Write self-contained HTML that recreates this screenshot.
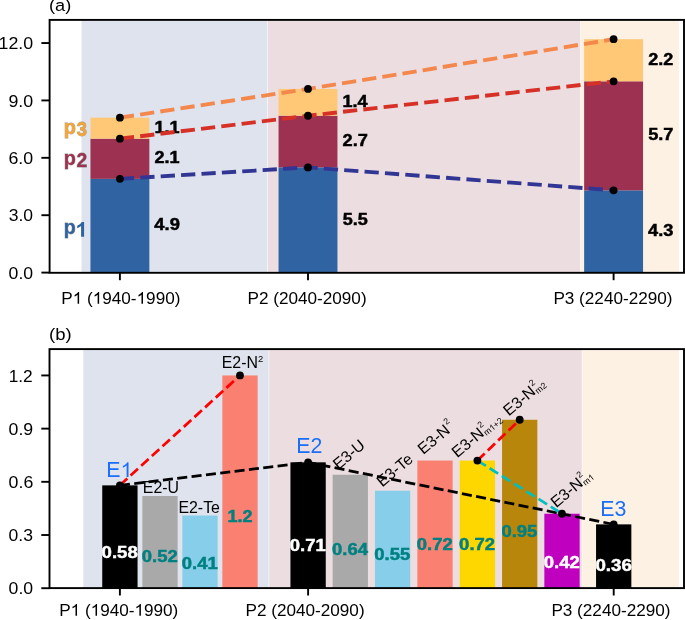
<!DOCTYPE html>
<html><head><meta charset="utf-8"><title>chart</title>
<style>
html,body{margin:0;padding:0;background:#fff;}
svg{display:block;will-change:transform;}
text{font-family:"Liberation Sans",sans-serif;}
</style></head>
<body>
<svg width="685" height="620" viewBox="0 0 685 620">
<rect width="685" height="620" fill="#fff"/>
<rect x="81.5" y="19.9" width="185.8" height="252.9" fill="#dfe3ed"/>
<rect x="267.9" y="19.9" width="312.4" height="252.9" fill="#ecdde0"/>
<rect x="580.9" y="19.9" width="97.9" height="252.9" fill="#fcf1e3"/>
<rect x="90.45" y="178.86" width="58.9" height="93.74" fill="#3063a1"/>
<rect x="90.45" y="138.69" width="58.9" height="40.17" fill="#9c3151"/>
<rect x="90.45" y="117.65" width="58.9" height="21.04" fill="#fec877"/>
<rect x="278.55" y="167.39" width="58.9" height="105.21" fill="#3063a1"/>
<rect x="278.55" y="115.73" width="58.9" height="51.65" fill="#9c3151"/>
<rect x="278.55" y="88.95" width="58.9" height="26.78" fill="#fec877"/>
<rect x="584.15" y="190.34" width="58.9" height="82.26" fill="#3063a1"/>
<rect x="584.15" y="81.3" width="58.9" height="109.04" fill="#9c3151"/>
<rect x="584.15" y="39.21" width="58.9" height="42.09" fill="#fec877"/>
<text transform="translate(154.34,230.29) scale(1.1648,1)" font-size="15.79" font-weight="bold" fill="#000" stroke="#000" stroke-width="0.45">4.9</text>
<text transform="translate(154.49,163.28) scale(1.1505,1)" font-size="15.73" font-weight="bold" fill="#000" stroke="#000" stroke-width="0.45">2.1</text>
<text transform="translate(154.48,132.67) scale(1.1548,1)" font-size="15.68" font-weight="bold" fill="#000" stroke="#000" stroke-width="0.45">1.1</text>
<text transform="translate(342.64,224.55) scale(1.1455,1)" font-size="15.76" font-weight="bold" fill="#000" stroke="#000" stroke-width="0.45">5.5</text>
<text transform="translate(342.59,146.06) scale(1.1569,1)" font-size="15.73" font-weight="bold" fill="#000" stroke="#000" stroke-width="0.45">2.7</text>
<text transform="translate(342.58,106.84) scale(1.1515,1)" font-size="15.68" font-weight="bold" fill="#000" stroke="#000" stroke-width="0.45">1.4</text>
<text transform="translate(648.04,236) scale(1.1539,1)" font-size="15.78" font-weight="bold" fill="#000" stroke="#000" stroke-width="0.45">4.3</text>
<text transform="translate(648.23,140.38) scale(1.1525,1)" font-size="15.76" font-weight="bold" fill="#000" stroke="#000" stroke-width="0.45">5.7</text>
<text transform="translate(648.19,64.76) scale(1.1482,1)" font-size="15.73" font-weight="bold" fill="#000" stroke="#000" stroke-width="0.45">2.2</text>
<polyline points="119.9,178.86 308,167.39 613.6,190.34" fill="none" stroke="#313695" stroke-width="3.85" stroke-dasharray="14.26 6.17"/>
<polyline points="119.9,138.69 308,115.73 613.6,81.3" fill="none" stroke="#d73027" stroke-width="3.85" stroke-dasharray="14.26 6.17"/>
<polyline points="119.9,117.65 308,88.95 613.6,39.21" fill="none" stroke="#f4874b" stroke-width="3.85" stroke-dasharray="14.26 6.17"/>
<circle cx="119.9" cy="178.86" r="3.9" fill="#000"/>
<circle cx="308" cy="167.39" r="3.9" fill="#000"/>
<circle cx="613.6" cy="190.34" r="3.9" fill="#000"/>
<circle cx="119.9" cy="138.69" r="3.9" fill="#000"/>
<circle cx="308" cy="115.73" r="3.9" fill="#000"/>
<circle cx="613.6" cy="81.3" r="3.9" fill="#000"/>
<circle cx="119.9" cy="117.65" r="3.9" fill="#000"/>
<circle cx="308" cy="88.95" r="3.9" fill="#000"/>
<circle cx="613.6" cy="39.21" r="3.9" fill="#000"/>
<rect x="49.6" y="19.9" width="634.4" height="252.9" fill="none" stroke="#000" stroke-width="1.9"/>
<line x1="41.4" y1="272.6" x2="49.6" y2="272.6" stroke="#000" stroke-width="1.9"/>
<text transform="translate(8.57,278.86) scale(1.0403,1)" font-size="16.99" fill="#000">0.0</text>
<line x1="41.4" y1="215.21" x2="49.6" y2="215.21" stroke="#000" stroke-width="1.9"/>
<text transform="translate(8.76,221.47) scale(1.0322,1)" font-size="16.99" fill="#000">3.0</text>
<line x1="41.4" y1="157.82" x2="49.6" y2="157.82" stroke="#000" stroke-width="1.9"/>
<text transform="translate(8.42,164.08) scale(1.0468,1)" font-size="16.99" fill="#000">6.0</text>
<line x1="41.4" y1="100.43" x2="49.6" y2="100.43" stroke="#000" stroke-width="1.9"/>
<text transform="translate(8.38,106.69) scale(1.0486,1)" font-size="16.99" fill="#000">9.0</text>
<line x1="41.4" y1="43.04" x2="49.6" y2="43.04" stroke="#000" stroke-width="1.9"/>
<text transform="translate(-1.51,49.3) scale(1.0482,1)" font-size="16.99" fill="#000">12.0</text>
<line x1="119.9" y1="272.8" x2="119.9" y2="280.2" stroke="#000" stroke-width="1.9"/>
<line x1="308" y1="272.8" x2="308" y2="280.2" stroke="#000" stroke-width="1.9"/>
<line x1="613.6" y1="272.8" x2="613.6" y2="280.2" stroke="#000" stroke-width="1.9"/>
<text transform="translate(61.29,303.85)" font-size="17.15" fill="#000">P  ( 940- 990)</text>
<path d="M763 0L583 0L583 1098Q518 1039 412 979Q306 920 222 890L222 1057Q375 1126 489 1223Q603 1321 650 1409L763 1409Z" fill="#000" transform="translate(72.73,303.85) scale(0.00837,-0.00837)"/>
<path d="M763 0L583 0L583 1098Q518 1039 412 979Q306 920 222 890L222 1057Q375 1126 489 1223Q603 1321 650 1409L763 1409Z" fill="#000" transform="translate(92.75,303.85) scale(0.00837,-0.00837)"/>
<path d="M763 0L583 0L583 1098Q518 1039 412 979Q306 920 222 890L222 1057Q375 1126 489 1223Q603 1321 650 1409L763 1409Z" fill="#000" transform="translate(136.61,303.85) scale(0.00837,-0.00837)"/>
<text transform="translate(247.49,303.85)" font-size="17.15" fill="#000">P2 (2040-2090)</text>
<text transform="translate(553.39,303.85)" font-size="17.15" fill="#000">P3 (2240-2290)</text>
<text transform="translate(48.97,10.72) scale(1.1633,1)" font-size="15.68" fill="#000">(a)</text>
<rect x="83.3" y="349.1" width="185.3" height="239" fill="#dfe3ed"/>
<rect x="269.2" y="349.1" width="312.6" height="239" fill="#ecdde0"/>
<rect x="582.4" y="349.1" width="96.4" height="239" fill="#fcf1e3"/>
<rect x="102.25" y="485.37" width="35.3" height="102.83" fill="#000000"/>
<rect x="142.35" y="496" width="35.3" height="92.2" fill="#a9a9a9"/>
<rect x="182.35" y="515.51" width="35.3" height="72.69" fill="#87ceeb"/>
<rect x="222.35" y="375.44" width="35.3" height="212.76" fill="#fa8072"/>
<rect x="290.45" y="462.32" width="35.3" height="125.88" fill="#000000"/>
<rect x="332.65" y="474.73" width="35.3" height="113.47" fill="#a9a9a9"/>
<rect x="374.95" y="490.69" width="35.3" height="97.51" fill="#87ceeb"/>
<rect x="417.35" y="460.54" width="35.3" height="127.66" fill="#fa8072"/>
<rect x="459.75" y="460.54" width="35.3" height="127.66" fill="#ffd700"/>
<rect x="502.05" y="419.77" width="35.3" height="168.44" fill="#b8860b"/>
<rect x="544.35" y="513.73" width="35.3" height="74.47" fill="#bf00bf"/>
<rect x="596.05" y="524.37" width="35.3" height="63.83" fill="#000000"/>
<text transform="translate(101.61,558.48) scale(1.1763,1)" font-size="15.81" font-weight="bold" fill="#fff" stroke="#fff" stroke-width="0.45">0.58</text>
<text transform="translate(141.72,562.02) scale(1.1697,1)" font-size="15.81" font-weight="bold" fill="#008080" stroke="#008080" stroke-width="0.45">0.52</text>
<text transform="translate(181.72,568.52) scale(1.1711,1)" font-size="15.81" font-weight="bold" fill="#008080" stroke="#008080" stroke-width="0.45">0.41</text>
<text transform="translate(227.42,521.78) scale(1.1489,1)" font-size="15.73" font-weight="bold" fill="#008080" stroke="#008080" stroke-width="0.45">1.2</text>
<text transform="translate(289.82,550.79) scale(1.1711,1)" font-size="15.81" font-weight="bold" fill="#fff" stroke="#fff" stroke-width="0.45">0.71</text>
<text transform="translate(332.02,554.93) scale(1.1685,1)" font-size="15.81" font-weight="bold" fill="#008080" stroke="#008080" stroke-width="0.45">0.64</text>
<text transform="translate(374.32,560.25) scale(1.1706,1)" font-size="15.81" font-weight="bold" fill="#008080" stroke="#008080" stroke-width="0.45">0.55</text>
<text transform="translate(416.72,550.2) scale(1.1697,1)" font-size="15.81" font-weight="bold" fill="#008080" stroke="#008080" stroke-width="0.45">0.72</text>
<text transform="translate(459.12,550.2) scale(1.1697,1)" font-size="15.81" font-weight="bold" fill="#008080" stroke="#008080" stroke-width="0.45">0.72</text>
<text transform="translate(501.42,536.61) scale(1.1706,1)" font-size="15.81" font-weight="bold" fill="#008080" stroke="#008080" stroke-width="0.45">0.95</text>
<text transform="translate(543.72,567.93) scale(1.1697,1)" font-size="15.81" font-weight="bold" fill="#fff" stroke="#fff" stroke-width="0.45">0.42</text>
<text transform="translate(595.41,571.46) scale(1.1863,1)" font-size="15.78" font-weight="bold" fill="#fff" stroke="#fff" stroke-width="0.45">0.36</text>
<polyline points="119.9,485.37 240,375.44" fill="none" stroke="#ff0000" stroke-width="2.72" stroke-dasharray="10.08 4.36"/>
<polyline points="119.9,485.37 308.1,462.32 613.7,524.37" fill="none" stroke="#000" stroke-width="2.72" stroke-dasharray="10.08 4.36"/>
<polyline points="477.4,460.54 519.7,419.77" fill="none" stroke="#ff0000" stroke-width="2.72" stroke-dasharray="10.08 4.36"/>
<polyline points="477.4,460.54 562,513.73" fill="none" stroke="#00bfbf" stroke-width="2.72" stroke-dasharray="10.08 4.36"/>
<circle cx="119.9" cy="485.37" r="3.9" fill="#000"/>
<circle cx="240" cy="375.44" r="3.9" fill="#000"/>
<circle cx="308.1" cy="462.32" r="3.9" fill="#000"/>
<circle cx="477.4" cy="460.54" r="3.9" fill="#000"/>
<circle cx="519.7" cy="419.77" r="3.9" fill="#000"/>
<circle cx="562" cy="513.73" r="3.9" fill="#000"/>
<circle cx="613.7" cy="524.37" r="3.9" fill="#000"/>
<rect x="49.5" y="349.1" width="634.5" height="239" fill="none" stroke="#000" stroke-width="1.9"/>
<line x1="41.3" y1="588.2" x2="49.5" y2="588.2" stroke="#000" stroke-width="1.9"/>
<text transform="translate(8.57,594.46) scale(1.0403,1)" font-size="16.99" fill="#000">0.0</text>
<line x1="41.3" y1="535.01" x2="49.5" y2="535.01" stroke="#000" stroke-width="1.9"/>
<text transform="translate(8.58,541.27) scale(1.0343,1)" font-size="16.99" fill="#000">0.3</text>
<line x1="41.3" y1="481.82" x2="49.5" y2="481.82" stroke="#000" stroke-width="1.9"/>
<text transform="translate(8.57,488.08) scale(1.0466,1)" font-size="16.99" fill="#000">0.6</text>
<line x1="41.3" y1="428.63" x2="49.5" y2="428.63" stroke="#000" stroke-width="1.9"/>
<text transform="translate(8.57,434.89) scale(1.0441,1)" font-size="16.99" fill="#000">0.9</text>
<line x1="41.3" y1="375.44" x2="49.5" y2="375.44" stroke="#000" stroke-width="1.9"/>
<text transform="translate(8.64,381.64) scale(1.0277,1)" font-size="16.9" fill="#000">1.2</text>
<line x1="119.9" y1="588.1" x2="119.9" y2="595.5" stroke="#000" stroke-width="1.9"/>
<line x1="308.1" y1="588.1" x2="308.1" y2="595.5" stroke="#000" stroke-width="1.9"/>
<line x1="613.7" y1="588.1" x2="613.7" y2="595.5" stroke="#000" stroke-width="1.9"/>
<text transform="translate(59.19,615.7)" font-size="17.15" fill="#000">P  ( 940- 990)</text>
<path d="M763 0L583 0L583 1098Q518 1039 412 979Q306 920 222 890L222 1057Q375 1126 489 1223Q603 1321 650 1409L763 1409Z" fill="#000" transform="translate(70.63,615.7) scale(0.00837,-0.00837)"/>
<path d="M763 0L583 0L583 1098Q518 1039 412 979Q306 920 222 890L222 1057Q375 1126 489 1223Q603 1321 650 1409L763 1409Z" fill="#000" transform="translate(90.65,615.7) scale(0.00837,-0.00837)"/>
<path d="M763 0L583 0L583 1098Q518 1039 412 979Q306 920 222 890L222 1057Q375 1126 489 1223Q603 1321 650 1409L763 1409Z" fill="#000" transform="translate(134.51,615.7) scale(0.00837,-0.00837)"/>
<text transform="translate(245.49,615.7)" font-size="17.15" fill="#000">P2 (2040-2090)</text>
<text transform="translate(551.39,615.7)" font-size="17.15" fill="#000">P3 (2240-2290)</text>
<text transform="translate(48.95,339.66) scale(1.1829,1)" font-size="15.7" fill="#000">(b)</text>
<text transform="translate(106.35,476.9)" font-size="21.3" fill="#1a6ffa">E </text>
<path d="M763 0L583 0L583 1098Q518 1039 412 979Q306 920 222 890L222 1057Q375 1126 489 1223Q603 1321 650 1409L763 1409Z" fill="#1a6ffa" transform="translate(120.56,476.9) scale(0.01040,-0.01040)"/>
<text transform="translate(296.35,452.9)" font-size="21.3" fill="#1a6ffa">E2</text>
<text transform="translate(600.25,516.2)" font-size="21.3" fill="#1a6ffa">E3</text>
<text transform="translate(63.69,133.57) scale(1.0225,1)" font-size="19.41" font-weight="bold" fill="#f5a530" stroke="#2a1a10" stroke-opacity="0.45" stroke-width="0.8" paint-order="stroke">p</text>
<text transform="translate(76.78,135.67) scale(0.9083,1)" font-size="20.16" font-weight="bold" fill="#f5a530" stroke="#2a1a10" stroke-opacity="0.45" stroke-width="0.8" paint-order="stroke">3</text>
<text transform="translate(63.69,165.23) scale(0.9884,1)" font-size="20.08" font-weight="bold" fill="#9c3151" stroke="#2a1a10" stroke-opacity="0.45" stroke-width="0.8" paint-order="stroke">p</text>
<text transform="translate(76.53,167.4) scale(0.9703,1)" font-size="19.91" font-weight="bold" fill="#9c3151" stroke="#2a1a10" stroke-opacity="0.45" stroke-width="0.8" paint-order="stroke">2</text>
<text transform="translate(63.7,234.35) scale(0.9593,1)" font-size="20.48" font-weight="bold" fill="#3063a1" stroke="#2a1a10" stroke-opacity="0.45" stroke-width="0.8" paint-order="stroke">p</text>
<path d="M847 0L567 0L567 1018Q413 880 204 813L204 1058Q314 1093 443 1189Q572 1285 620 1409L847 1409Z" fill="#3063a1" transform="translate(75.01,236.7) scale(0.01073,-0.01043)" stroke="#2a1a10" stroke-opacity="0.45" stroke-width="0.8" paint-order="stroke"/>
<text transform="translate(142.8,493.3)" font-size="15.9" fill="#000">E2-U</text>
<text transform="translate(178.4,512.5)" font-size="15.9" fill="#000">E2-Te</text>
<text transform="translate(221.7,367.7)" font-size="15.9" fill="#000">E2-N</text>
<text transform="translate(258.03,361.9)" font-size="9.4" fill="#000">2</text>
<g transform="translate(338.43,470.24) rotate(-40)"><text x="0" y="0" font-size="15.9">E3-U</text></g>
<g transform="translate(382.23,487.44) rotate(-40)"><text x="0" y="0" font-size="15.9">E3-Te</text></g>
<g transform="translate(423.33,455.04) rotate(-40)"><text x="0" y="0" font-size="15.9">E3-N</text><text x="37.03" y="-8" font-size="8.8">2</text></g>
<g transform="translate(457.33,458.24) rotate(-40)"><text x="0" y="0" font-size="15.9">E3-N</text><text x="37.03" y="-8" font-size="8.8">2</text><text x="36.73" y="1.8" font-size="8.8">m +2</text><path d="M763 0L583 0L583 1098Q518 1039 412 979Q306 920 222 890L222 1057Q375 1126 489 1223Q603 1321 650 1409L763 1409Z" transform="translate(44.06,1.8) scale(0.00430,-0.00430)"/></g>
<g transform="translate(508.83,416.44) rotate(-40)"><text x="0" y="0" font-size="15.9">E3-N</text><text x="37.03" y="-8" font-size="8.8">2</text><text x="36.73" y="1.8" font-size="8.8">m2</text></g>
<g transform="translate(556.23,508.24) rotate(-40)"><text x="0" y="0" font-size="15.9">E3-N</text><text x="37.03" y="-8" font-size="8.8">2</text><text x="36.73" y="1.8" font-size="8.8">m </text><path d="M763 0L583 0L583 1098Q518 1039 412 979Q306 920 222 890L222 1057Q375 1126 489 1223Q603 1321 650 1409L763 1409Z" transform="translate(44.06,1.8) scale(0.00430,-0.00430)"/></g>
</svg>
</body></html>
